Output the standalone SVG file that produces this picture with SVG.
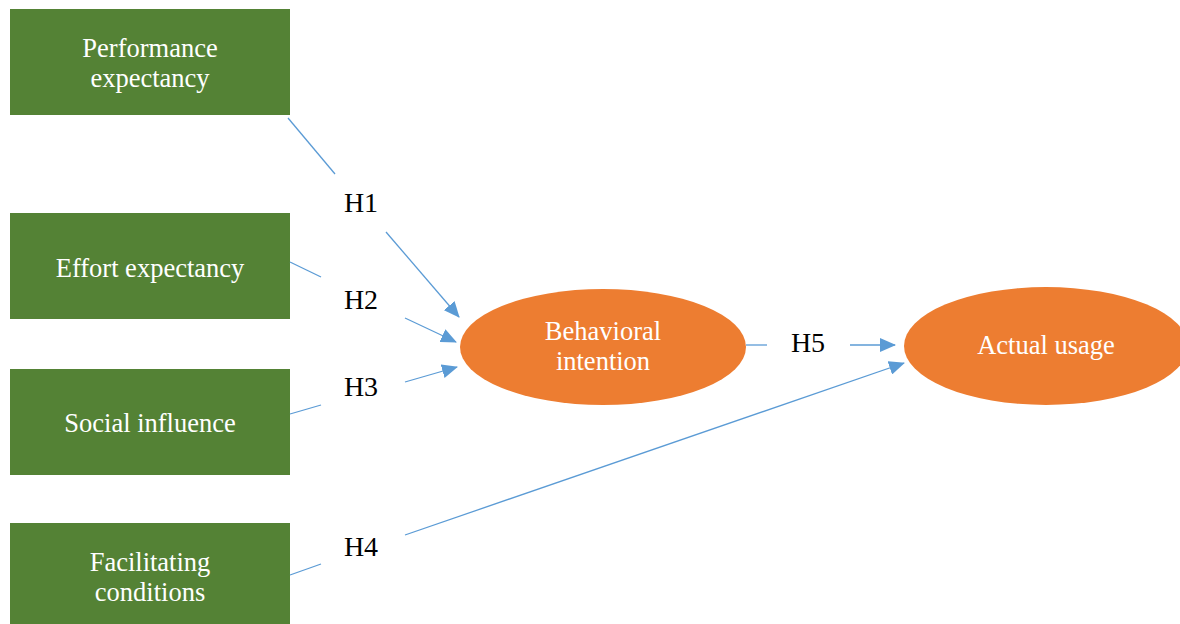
<svg xmlns="http://www.w3.org/2000/svg" width="1180" height="624" viewBox="0 0 1180 624">
<style>
.box{fill:#548235}
.ell{fill:#ED7D31}
.nt{font-size:26.5px;fill:#ffffff;text-anchor:middle}
.lb{font-size:28px;fill:#000000;text-anchor:middle}
.ln{stroke:#5B9BD5;stroke-width:1.3;fill:none}
</style>
<defs>
<marker id="ah" markerUnits="userSpaceOnUse" markerWidth="16" markerHeight="14" refX="15" refY="7" orient="auto">
<path d="M0,0 L16,7 L0,14 Z" fill="#5B9BD5"/>
</marker>
</defs>
<rect width="1180" height="624" fill="#ffffff"/>
<g font-family="Liberation Serif, Tinos, Times New Roman, DejaVu Serif, serif">
<g id="n1"><rect class="box" x="10" y="9" width="280" height="106"/><text class="nt" x="150" y="57">Performance</text><text class="nt" x="150" y="87">expectancy</text></g>
<g id="n2"><rect class="box" x="10" y="213" width="280" height="106"/><text class="nt" x="150" y="277">Effort expectancy</text></g>
<g id="n3"><rect class="box" x="10" y="369" width="280" height="106"/><text class="nt" x="150" y="432">Social influence</text></g>
<g id="n4"><rect class="box" x="10" y="523" width="280" height="106"/><text class="nt" x="150" y="571">Facilitating</text><text class="nt" x="150" y="601">conditions</text></g>
<g id="n5"><ellipse class="ell" cx="603" cy="347" rx="143" ry="58"/><text class="nt" x="603" y="340">Behavioral</text><text class="nt" x="603" y="370">intention</text></g>
<g id="n6"><ellipse class="ell" cx="1046" cy="346" rx="142" ry="59"/><text class="nt" x="1046" y="354">Actual usage</text></g>
<g id="connectors">
<line class="ln" x1="288" y1="118" x2="335" y2="174"/>
<line class="ln" x1="386" y1="232" x2="459" y2="317" marker-end="url(#ah)"/>
<line class="ln" x1="290" y1="262" x2="321" y2="277"/>
<line class="ln" x1="405" y1="318" x2="456" y2="342" marker-end="url(#ah)"/>
<line class="ln" x1="290" y1="414" x2="321" y2="405"/>
<line class="ln" x1="405" y1="382" x2="457" y2="367" marker-end="url(#ah)"/>
<line class="ln" x1="290" y1="575" x2="321" y2="564"/>
<line class="ln" x1="405" y1="535" x2="904" y2="363" marker-end="url(#ah)"/>
<line class="ln" x1="746" y1="345" x2="767" y2="345"/>
<line class="ln" x1="850" y1="345" x2="895" y2="345" marker-end="url(#ah)"/>
</g>
<g id="labels">
<text class="lb" x="361" y="212">H1</text>
<text class="lb" x="361" y="309">H2</text>
<text class="lb" x="361" y="396">H3</text>
<text class="lb" x="361" y="556">H4</text>
<text class="lb" x="808" y="352">H5</text>
</g>
</g>
</svg>
